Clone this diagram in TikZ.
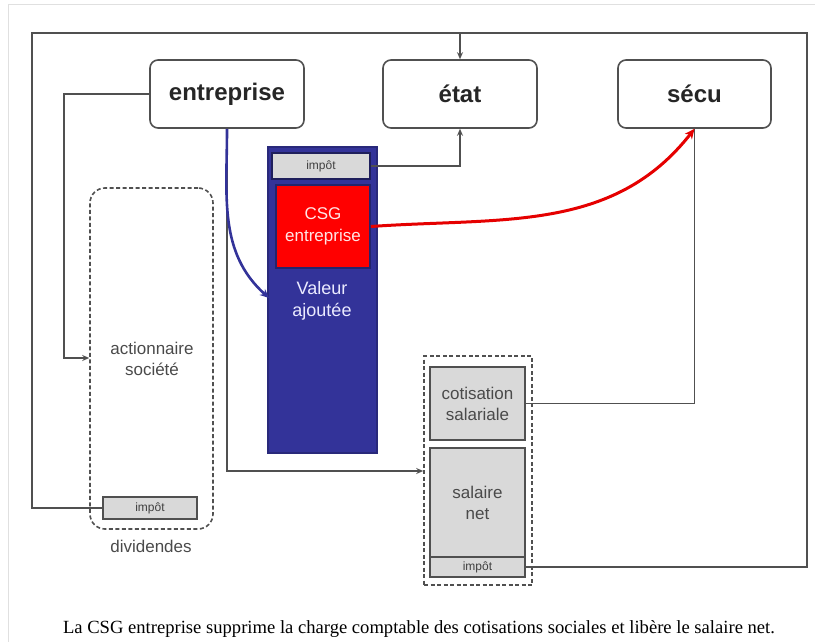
\documentclass[tikz,border=0pt]{standalone}
\usepackage{fontspec}
\setmainfont{Liberation Serif}
\setsansfont{Liberation Sans}
\usetikzlibrary{arrows.meta}
\definecolor{lin}{HTML}{505050}
\definecolor{vablue}{HTML}{333399}
\definecolor{boxgray}{HTML}{D9D9D9}
\definecolor{txtgray}{HTML}{4A4A4A}
\tikzset{
  mainbox/.style={draw=lin, line width=1.6pt, rounded corners=8pt, fill=white, minimum width=154pt, minimum height=68pt, font=\sffamily\bfseries\fontsize{24}{26}\selectfont, text=black!85},
  graybox/.style={draw=lin, line width=1.6pt, fill=boxgray, inner sep=0pt, align=center, text=txtgray, font=\sffamily\fontsize{17}{21}\selectfont},
  smallimp/.style={graybox, font=\sffamily\fontsize{12}{14}\selectfont, text=black!75},
  conn/.style={draw=lin, line width=1.7pt},
  tip/.style={-{Stealth[length=7pt,width=6pt]}},
  dashbox/.style={draw=lin, line width=1.6pt, dash pattern=on 4pt off 2.5pt, inner sep=0pt},
  lbl/.style={align=center, text=txtgray, font=\sffamily\fontsize{17}{21}\selectfont},
}
\begin{document}
\begin{tikzpicture}[x=1pt,y=-1pt]
\useasboundingbox (0,0) rectangle (815,642);
% faint image frame
\draw[black!12, line width=1pt] (8,642) -- (8,5) -- (815,5);

% main boxes
\node[mainbox] (ent) at (227,94) {entreprise};
\node[mainbox] (etat) at (460,94) {état};
\node[mainbox, minimum width=153pt] (secu) at (694.5,94) {sécu};

% dividendes group
\node[dashbox, rounded corners=15pt, minimum width=123pt, minimum height=341pt] (div) at (151.5,358.5) {};
\node[lbl] (act) at (152,359) {actionnaire\\société};
\node[smallimp, minimum width=94pt, minimum height=22pt] (divimp) at (150,508) {impôt};
\node[lbl] (divlbl) at (151,546) {dividendes};

% valeur ajoutee column
\node[fill=vablue, draw=vablue!80!black, line width=1.2pt, minimum width=109pt, minimum height=306pt, inner sep=0pt] (va) at (322.5,300) {};
\node[smallimp, draw=vablue!60!black, minimum width=98pt, minimum height=26pt] (vaimp) at (321,166) {impôt};
\node[fill=red, draw=vablue!70!black, line width=1.6pt, minimum width=94pt, minimum height=83pt, inner sep=0pt, align=center, text=white!90!red, font=\sffamily\fontsize{17}{22}\selectfont] (csg) at (323,226.5) {CSG\\entreprise};
\node[align=center, text=white!92!blue, font=\sffamily\fontsize{18}{22}\selectfont] (valeur) at (322,301) {Valeur\\ajoutée};

% salaire group
\node[dashbox, minimum width=108pt, minimum height=229pt] (sal) at (478,470.5) {};
\node[graybox, minimum width=95pt, minimum height=73pt] (cot) at (477.5,403.5) {cotisation\\salariale};
\node[graybox, minimum width=95pt, minimum height=109pt] (net) at (477.5,502.5) {salaire\\net};
\node[smallimp, minimum width=95pt, minimum height=20pt] (netimp) at (477.5,567) {impôt};

% coordinates
\coordinate (tl) at (32,33);
\coordinate (tr) at (807,33);
\coordinate (c1) at (64,358);
\coordinate (c2) at (227,471);
\coordinate (c3) at (269,298);

% connectors
\draw[conn,tip] (ent.west) -| (c1) -- (c1 -| div.west);
\draw[conn,tip] (divimp.west) -| (tl) -| (etat.north);
\draw[conn] (netimp.east) -| (tr) -- (etat.north |- tr);
\draw[conn,tip] (vaimp.east) -| (etat.south);
\draw[conn] (cot.east) -| (secu.south);
\draw[conn,tip] (ent.south) -- (c2) -- (c2 -| sal.west);

% blue and red arrows
\draw[draw=vablue, line width=2.6pt, -{Stealth[length=9pt,width=8pt]}] (ent.south) to[out=-90,in=138] (c3);
\draw[draw=red!90!black, line width=3pt, -{Stealth[length=10pt,width=9pt]}] (csg.east) to[out=4,in=-128] (secu.south);

% caption
\node[font=\rmfamily\fontsize{18.6}{22}\selectfont, text=black] (cap) at (419,629) {La CSG entreprise supprime la charge comptable des cotisations sociales et libère le salaire net.};
\end{tikzpicture}
\end{document}
